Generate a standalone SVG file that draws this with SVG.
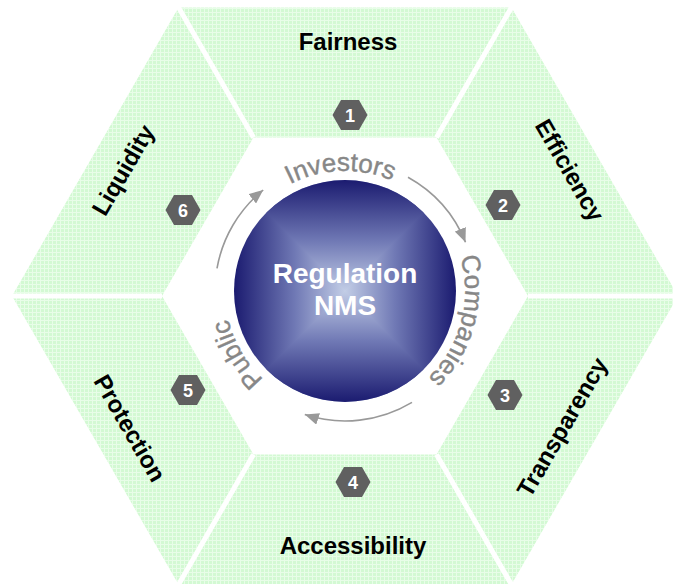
<svg xmlns="http://www.w3.org/2000/svg" xmlns:xlink="http://www.w3.org/1999/xlink" width="673" height="584" viewBox="0 0 673 584">
  <defs>
    <style>
      .seg { fill: url(#grid); }
      .gap { stroke: #ffffff; stroke-width: 5; stroke-linecap: butt; }
      .label { font-family: "Liberation Sans", Arial, sans-serif; font-weight: bold; font-size: 24px; fill: #000000; text-anchor: middle; }
      .num { font-family: "Liberation Sans", Arial, sans-serif; font-weight: bold; font-size: 18px; fill: #ffffff; text-anchor: middle; }
      .badge { fill: #606060; }
      .hub-text { font-family: "Liberation Sans", Arial, sans-serif; font-weight: bold; font-size: 28px; fill: #ffffff; text-anchor: middle; }
      .ring-text { font-family: "Liberation Sans", Arial, sans-serif; font-size: 26px; fill: #878787; stroke: #878787; stroke-width: 0.4; text-anchor: middle; }
      .flow { fill: none; stroke: #999999; stroke-width: 1.6; marker-end: url(#head); }
    </style>
    <!-- light green graph-paper fill -->
    <pattern id="grid" width="4" height="4" patternUnits="userSpaceOnUse">
      <rect width="4" height="4" fill="#d3f9d3"/>
      <path d="M0 0.5H4M0.5 0V4" stroke="#e8fde8" stroke-width="1"/>
    </pattern>
    <marker id="head" markerUnits="userSpaceOnUse" markerWidth="16" markerHeight="12" refX="14" refY="6" orient="auto">
      <path d="M0 0L14 6L0 12Z" fill="#999999"/>
    </marker>
    <polygon id="hexbadge" points="-17.5,0 -9,-15 9,-15 17.5,0 9,15 -9,15"/>
    <!-- square "from centre" shading for the hub, one ramp per direction -->
    <linearGradient id="gUp" gradientUnits="userSpaceOnUse" x1="345" y1="291" x2="345" y2="180">
      <stop offset="0" stop-color="#c2cde6"/><stop offset="0.45" stop-color="#7079b5"/><stop offset="1" stop-color="#1b1b70"/>
    </linearGradient>
    <linearGradient id="gDown" gradientUnits="userSpaceOnUse" x1="345" y1="291" x2="345" y2="402">
      <stop offset="0" stop-color="#c2cde6"/><stop offset="0.45" stop-color="#7079b5"/><stop offset="1" stop-color="#1b1b70"/>
    </linearGradient>
    <linearGradient id="gLeft" gradientUnits="userSpaceOnUse" x1="345" y1="291" x2="234" y2="291">
      <stop offset="0" stop-color="#c2cde6"/><stop offset="0.45" stop-color="#7079b5"/><stop offset="1" stop-color="#1b1b70"/>
    </linearGradient>
    <linearGradient id="gRight" gradientUnits="userSpaceOnUse" x1="345" y1="291" x2="456" y2="291">
      <stop offset="0" stop-color="#c2cde6"/><stop offset="0.45" stop-color="#7079b5"/><stop offset="1" stop-color="#1b1b70"/>
    </linearGradient>
    <clipPath id="hubClip"><circle cx="345" cy="291" r="111"/></clipPath>
    <!-- clockwise baseline ring for the stakeholder words, starting at 9 o'clock -->
    <path id="ring" d="M225,291 A120,120 0 1 1 465,291 A120,120 0 1 1 225,291"/>
  </defs>

  <rect width="673" height="584" fill="#ffffff"/>

  <!-- six segments of the hexagon ring -->
  <g id="seg-fairness">
    <polygon class="seg" points="178.5,7.6 511.5,7.6 436.5,137.5 253.5,137.5"/>
    <text class="label" x="348" y="50">Fairness</text>
    <use href="#hexbadge" class="badge" x="350" y="115"/>
    <text class="num" x="350" y="121.5">1</text>
  </g>
  <g id="seg-efficiency">
    <polygon class="seg" points="511.5,7.6 678,296 528,296 436.5,137.5"/>
    <text class="label" transform="translate(570,170) rotate(60)" y="8.5">Efficiency</text>
    <use href="#hexbadge" class="badge" x="503" y="205"/>
    <text class="num" x="503" y="211.5">2</text>
  </g>
  <g id="seg-transparency">
    <polygon class="seg" points="678,296 511.5,584.4 436.5,454.5 528,296"/>
    <text class="label" transform="translate(562,427) rotate(-60)" y="8.5">Transparency</text>
    <use href="#hexbadge" class="badge" x="505" y="395"/>
    <text class="num" x="505" y="401.5">3</text>
  </g>
  <g id="seg-accessibility">
    <polygon class="seg" points="511.5,584.4 178.5,584.4 253.5,454.5 436.5,454.5"/>
    <text class="label" x="353" y="554">Accessibility</text>
    <use href="#hexbadge" class="badge" x="353" y="482"/>
    <text class="num" x="353" y="488.5">4</text>
  </g>
  <g id="seg-protection">
    <polygon class="seg" points="178.5,584.4 12,296 162,296 253.5,454.5"/>
    <text class="label" transform="translate(130,428) rotate(60)" y="8.5">Protection</text>
    <use href="#hexbadge" class="badge" x="188" y="390"/>
    <text class="num" x="188" y="396.5">5</text>
  </g>
  <g id="seg-liquidity">
    <polygon class="seg" points="12,296 178.5,7.6 253.5,137.5 162,296"/>
    <text class="label" transform="translate(123,170) rotate(-60)" y="8.5">Liquidity</text>
    <use href="#hexbadge" class="badge" x="183" y="210"/>
    <text class="num" x="183" y="216.5">6</text>
  </g>

  <!-- white seams between segments -->
  <g id="seams">
    <line class="gap" x1="253.5" y1="137.5" x2="176" y2="3"/>
    <line class="gap" x1="436.5" y1="137.5" x2="514" y2="3"/>
    <line class="gap" x1="528" y1="296" x2="680" y2="296"/>
    <line class="gap" x1="436.5" y1="454.5" x2="514" y2="589"/>
    <line class="gap" x1="253.5" y1="454.5" x2="176" y2="589"/>
    <line class="gap" x1="162" y1="296" x2="5" y2="296"/>
  </g>

  <!-- central hub: left/right halves underneath, top/bottom wedges over them -->
  <g id="hub">
    <g clip-path="url(#hubClip)">
      <rect x="230" y="176" width="116" height="230" fill="url(#gLeft)"/>
      <rect x="344" y="176" width="116" height="230" fill="url(#gRight)"/>
      <polygon points="345,291 225,171 465,171" fill="url(#gUp)"/>
      <polygon points="345,291 465,411 225,411" fill="url(#gDown)"/>
    </g>
    <text class="hub-text" x="345" y="283">Regulation</text>
    <text class="hub-text" x="345" y="315">NMS</text>
  </g>

  <!-- stakeholders around the hub -->
  <g id="investors"><text class="ring-text"><textPath href="#ring" startOffset="184">Investors</textPath></text></g>
  <g id="companies"><text class="ring-text"><textPath href="#ring" startOffset="408">Companies</textPath></text></g>
  <g id="public"><text class="ring-text"><textPath href="#ring" startOffset="690">Public</textPath></text></g>

  <!-- circular flow arrows -->
  <g id="connectors">
    <path class="flow" d="M408,177.3 A130,130 0 0 1 465.5,242.3"/>
    <path class="flow" d="M412,402.4 A130,130 0 0 1 304.8,414.6"/>
    <path class="flow" d="M217,268.4 A130,130 0 0 1 263.2,190"/>
  </g>
</svg>
